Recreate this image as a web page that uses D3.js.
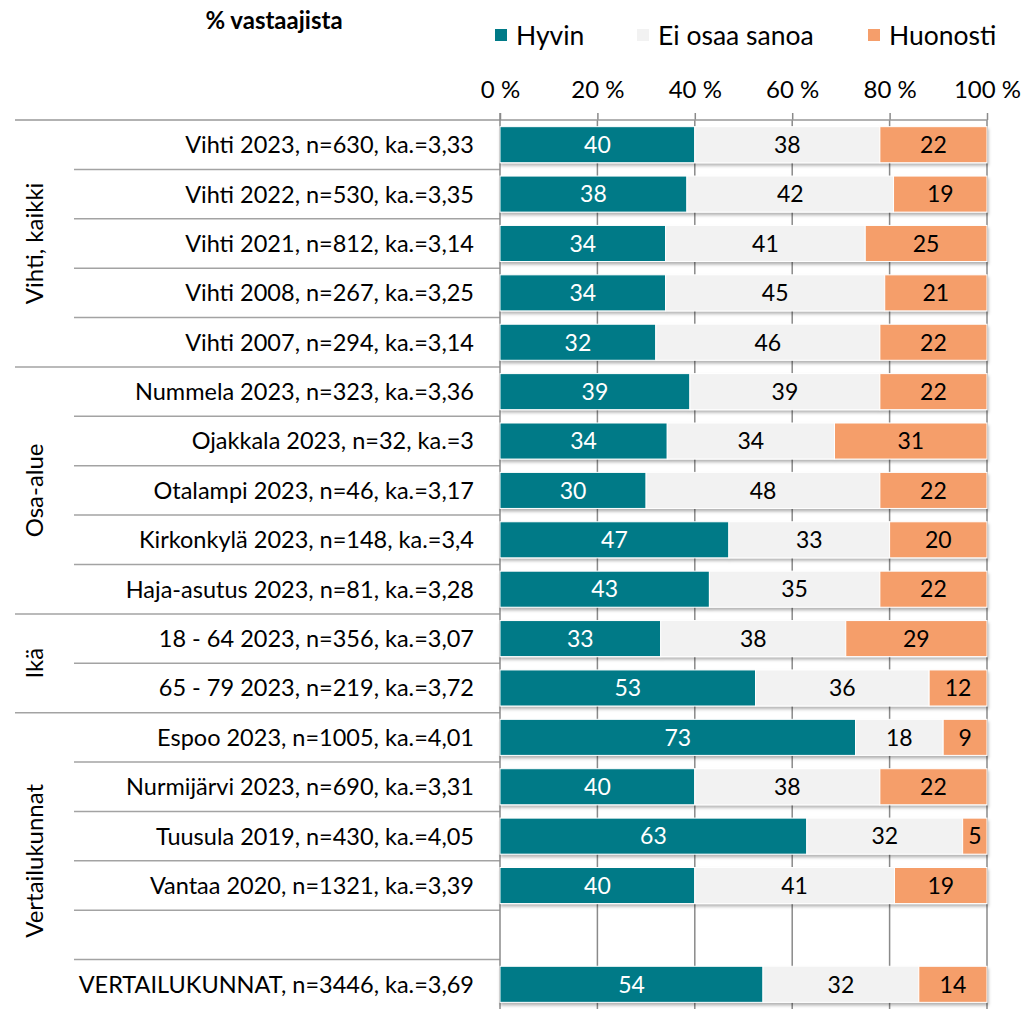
<!DOCTYPE html>
<html><head><meta charset="utf-8">
<script src="https://cdn.jsdelivr.net/npm/d3@7"></script>
<style>
body{margin:0;background:#fff}
svg{display:block}
text{font-family:Lato,"Open Sans",sans-serif;fill:#000}
</style>
</head><body>
<svg id="c" width="1022" height="1009"></svg>
<script>
const categories = [
  "Vihti 2023, n=630, ka.=3,33",
  "Vihti 2022, n=530, ka.=3,35",
  "Vihti 2021, n=812, ka.=3,14",
  "Vihti 2008, n=267, ka.=3,25",
  "Vihti 2007, n=294, ka.=3,14",
  "Nummela 2023, n=323, ka.=3,36",
  "Ojakkala 2023, n=32, ka.=3",
  "Otalampi 2023, n=46, ka.=3,17",
  "Kirkonkylä 2023, n=148, ka.=3,4",
  "Haja-asutus 2023, n=81, ka.=3,28",
  "18 - 64 2023, n=356, ka.=3,07",
  "65 - 79 2023, n=219, ka.=3,72",
  "Espoo 2023, n=1005, ka.=4,01",
  "Nurmijärvi 2023, n=690, ka.=3,31",
  "Tuusula 2019, n=430, ka.=4,05",
  "Vantaa 2020, n=1321, ka.=3,39",
  "",
  "VERTAILUKUNNAT, n=3446, ka.=3,69"
];
const hyvin    = [40,38,34,34,32,39,34,30,47,43,33,53,73,40,63,40,null,54];
const eiOsaa   = [38,42,41,45,46,39,34,48,33,35,38,36,18,38,32,41,null,32];
const huonosti = [22,19,25,21,22,22,31,22,20,22,29,12, 9,22, 5,19,null,14];
const seriesNames = ["Hyvin","Ei osaa sanoa","Huonosti"];
const groupNames  = ["Vihti, kaikki","Osa-alue","Ikä","Vertailukunnat"];
const groupStarts = [0,5,10,12];
const groupEnds   = [5,10,12,18];
const xTicks = [0,20,40,60,80,100];
const xTickLabels = ["0 %","20 %","40 %","60 %","80 %","100 %"];

const colors = ["#007A87","#F2F2F2","#F59E6B"];
const labelColors = ["#ffffff","#000000","#000000"];

const svg = d3.select("#c");
const pTop = 120, pBottom = 1009, pLeft = 500, pRight = 987;

const x = d3.scaleLinear().domain([0,100]).range([pLeft,pRight]);
const y = d3.scaleBand().domain(d3.range(categories.length)).range([pTop,pBottom])
  .paddingInner(0.27).paddingOuter(0.135);
const step = y.step();
const boundary = i => pTop + i*step;

const rows = categories.map((c,i)=>({i, c, v:[hyvin[i]||0, eiOsaa[i]||0, huonosti[i]||0], raw:[hyvin[i],eiOsaa[i],huonosti[i]]}));
const stack = d3.stack().keys([0,1,2]).value((d,k)=>d.v[k]).offset(d3.stackOffsetExpand);
const stacked = stack(rows);

const defs = svg.append("defs");
const f = defs.append("filter").attr("id","sh").attr("x","-5%").attr("y","-20%").attr("width","110%").attr("height","160%");
f.append("feDropShadow").attr("dx",1).attr("dy",2.5).attr("stdDeviation",1.8).attr("flood-color","#000").attr("flood-opacity",0.3);

// gridlines
svg.append("g").selectAll("line").data(xTicks.slice(1)).join("line")
  .attr("x1",d=>x(d)).attr("x2",d=>x(d)).attr("y1",pTop).attr("y2",pBottom)
  .attr("stroke","#8a8a8a").attr("stroke-width",1.5);

// top axis
const ax = svg.append("g").attr("transform",`translate(0,${pTop})`)
  .call(d3.axisTop(x).tickValues(xTicks).tickFormat((d,i)=>xTickLabels[i]).tickSize(7).tickPadding(15).tickSizeOuter(0));
ax.select(".domain").remove();
ax.selectAll(".tick line").attr("stroke","#8a8a8a").attr("stroke-width",1.5);
ax.selectAll(".tick text").attr("font-size",24).attr("fill","#000").style("font-family","Lato");

svg.append("line").attr("x1",15).attr("x2",pRight).attr("y1",pTop).attr("y2",pTop).attr("stroke","#999").attr("stroke-width",1.5);

// separators
const outerB = groupStarts.slice(1);
const seps = d3.range(1,categories.length).map(i=>({i, outer: outerB.includes(i)}));
svg.append("g").selectAll("line").data(seps).join("line")
  .attr("x1",d=>d.outer?15:74).attr("x2",pLeft).attr("y1",d=>boundary(d.i)).attr("y2",d=>boundary(d.i))
  .attr("stroke","#a3a3a3").attr("stroke-width",1.5);

svg.append("line").attr("x1",pLeft).attr("x2",pLeft).attr("y1",pTop-7).attr("y2",pBottom).attr("stroke","#8a8a8a").attr("stroke-width",1.5);

// bars
const gBars = svg.append("g").attr("filter","url(#sh)");
stacked.forEach((s,k)=>{
  gBars.append("g").selectAll("rect").data(s.filter(d=>d[1]>d[0])).join("rect")
    .attr("x",d=>x(d[0]*100)).attr("width",d=>x(d[1]*100)-x(d[0]*100))
    .attr("y",d=>y(d.data.i)).attr("height",y.bandwidth())
    .attr("fill",colors[k]).attr("stroke","#fff").attr("stroke-width",1);
});
stacked.forEach((s,k)=>{
  svg.append("g").selectAll("text").data(s.filter(d=>d.data.raw[k]!=null)).join("text")
    .attr("x",d=>(x(d[0]*100)+x(d[1]*100))/2).attr("y",d=>y(d.data.i)+y.bandwidth()/2)
    .attr("dy","0.36em").attr("text-anchor","middle").attr("font-size",23)
    .style("fill",labelColors[k]).text(d=>d.data.raw[k]);
});

// category labels
svg.append("g").selectAll("text").data(rows).join("text")
  .attr("x",474).attr("y",d=>y(d.i)+y.bandwidth()/2).attr("dy","0.36em")
  .attr("text-anchor","end").attr("font-size",23.5).text(d=>d.c);

// group labels
svg.append("g").selectAll("text").data(groupNames).join("text")
  .attr("transform",(d,i)=>`translate(34,${(boundary(groupStarts[i])+boundary(groupEnds[i]))/2}) rotate(-90)`)
  .attr("dy","0.36em").attr("text-anchor","middle").attr("font-size",24).text(d=>d);

svg.append("text").attr("x",274).attr("y",29).attr("text-anchor","middle").attr("font-size",24).attr("font-weight","bold").text("% vastaajista");

const legX = [495,637,868];
const leg = svg.append("g").selectAll("g").data(seriesNames).join("g").attr("transform",(d,i)=>`translate(${legX[i]},35)`);
leg.append("rect").attr("x",0).attr("y",-6).attr("width",12).attr("height",12).attr("fill",(d,i)=>colors[i]);
leg.append("text").attr("x",21).attr("dy","0.36em").attr("font-size",26.5).text(d=>d);
</script>
</body></html>
